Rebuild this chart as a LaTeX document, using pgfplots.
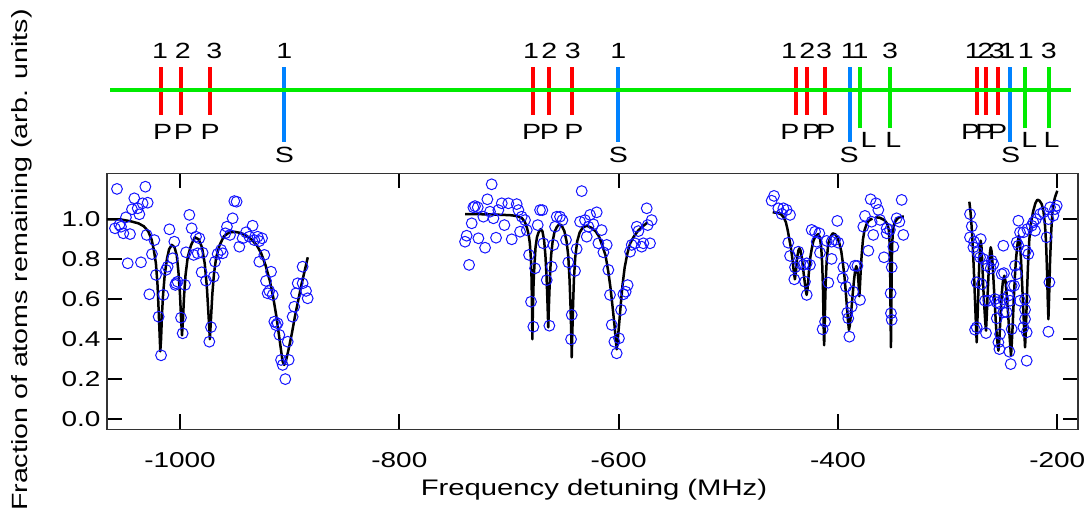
\documentclass[border=0pt]{standalone}
\usepackage{fontspec}
\setmainfont{Liberation Sans}[FakeStretch=1.3]
\usepackage{pgfplots}
\usepackage{pgfplotstable}
\pgfplotsset{compat=1.18}
\definecolor{lred}{RGB}{255,0,0}
\definecolor{lblue}{RGB}{0,130,255}
\definecolor{lgreen}{RGB}{0,235,0}
\definecolor{dots}{RGB}{20,20,255}

\pgfplotstableread{
x y
-1057.5 1.152
-1031.6 1.163
-1041.7 1.105
-1029.5 1.083
-1034.1 1.080
-1043.8 1.050
-1038.6 1.055
-1037.1 1.025
-1049.3 1.010
-1059.3 0.955
-1053.8 0.963
-1055.3 0.972
-1051.7 0.930
-1045.6 0.926
-1030.4 0.922
-1023.4 0.896
-1047.7 0.780
-1035.6 0.785
-1025.6 0.826
-1021.9 0.722
-1028.0 0.625
-1019.5 0.513
-1015.2 0.622
-1017.3 0.320
-1012.8 0.747
-1011.3 0.763
-1009.7 0.950
-1005.2 0.888
-1006.7 0.805
-1003.7 0.680
-1002.2 0.688
-1004.3 0.672
-999.1 0.508
-995.5 0.672
-997.6 0.430
-991.5 1.022
-989.4 0.955
-994.5 0.835
-987.6 0.822
-985.4 0.913
-982.4 0.905
-983.9 0.830
-979.4 0.833
-980.3 0.735
-976.3 0.693
-969.3 0.713
-971.8 0.461
-973.3 0.388
-968.1 0.788
-965.7 0.827
-962.6 0.847
-961.1 0.830
-957.2 0.963
-958.7 0.930
-954.4 0.922
-952.0 1.005
-948.4 1.088
-950.5 1.091
-945.9 0.863
-942.9 0.905
-939.8 0.935
-933.8 0.968
-936.8 0.913
-932.2 0.896
-929.2 0.913
-927.7 0.891
-925.2 0.905
-923.1 0.822
-927.7 0.788
-917.0 0.738
-921.6 0.692
-918.6 0.642
-920.1 0.630
-915.5 0.622
-914.0 0.488
-912.5 0.471
-911.0 0.480
-909.4 0.422
-907.9 0.297
-906.4 0.272
-900.9 0.297
-901.8 0.388
-904.0 0.201
-897.3 0.513
-895.8 0.563
-894.2 0.630
-892.7 0.680
-888.2 0.680
-885.1 0.642
-883.6 0.605
-888.2 0.763
-715.8 1.175
-633.7 1.141
-719.7 1.100
-731.0 1.066
-732.5 1.060
-728.5 1.060
-706.6 1.080
-700.6 1.080
-693.0 1.076
-709.7 1.046
-717.3 1.038
-723.4 1.013
-714.2 1.005
-734.0 0.980
-704.2 0.971
-691.4 1.046
-688.4 1.013
-685.4 0.996
-689.9 0.938
-697.5 0.900
-711.8 0.908
-727.9 0.905
-738.6 0.918
-740.1 0.888
-721.8 0.858
-736.4 0.772
-671.7 1.046
-669.6 1.046
-673.8 0.971
-683.8 0.946
-681.7 0.822
-676.2 0.755
-679.9 0.588
-677.8 0.463
-668.7 0.880
-665.6 0.696
-663.2 0.468
-661.1 0.763
-659.5 0.872
-656.5 1.013
-653.5 1.013
-651.3 0.996
-658.0 0.963
-648.0 0.897
-645.9 0.785
-639.8 0.742
-642.8 0.522
-643.4 0.400
-638.3 0.852
-635.2 0.988
-630.7 0.996
-626.1 1.022
-620.0 1.035
-627.6 0.963
-623.1 0.975
-615.5 0.946
-629.1 0.913
-618.5 0.880
-613.9 0.835
-610.9 0.872
-609.4 0.747
-607.9 0.622
-606.3 0.472
-603.9 0.388
-601.8 0.330
-599.7 0.405
-597.8 0.547
-595.7 0.625
-593.6 0.638
-591.8 0.671
-589.6 0.838
-588.1 0.872
-585.1 0.880
-583.5 0.963
-582.0 0.941
-579.0 0.863
-577.5 0.880
-574.4 1.055
-569.9 0.996
-571.4 0.880
-573.5 0.971
-458.3 1.117
-460.5 1.093
-454.4 1.055
-449.8 1.055
-446.8 1.047
-451.3 1.027
-443.7 1.022
-445.3 0.883
-443.7 0.817
-436.1 0.838
-439.2 0.760
-434.6 0.780
-431.6 0.772
-428.5 0.780
-425.5 0.772
-439.8 0.700
-430.1 0.688
-428.5 0.622
-424.0 0.947
-420.9 0.938
-417.0 0.930
-419.4 0.888
-416.4 0.833
-410.3 0.892
-405.8 0.888
-402.7 0.897
-399.7 0.883
-400.6 0.992
-405.8 0.802
-408.8 0.683
-411.8 0.488
-414.0 0.450
-395.1 0.760
-395.7 0.705
-392.7 0.663
-391.5 0.533
-390.6 0.505
-387.5 0.563
-389.6 0.413
-384.5 0.768
-382.3 0.767
-386.0 0.638
-379.9 0.597
-376.9 0.963
-375.4 1.017
-370.2 1.100
-372.3 0.843
-367.8 0.922
-365.3 1.080
-363.2 1.047
-369.3 0.988
-361.7 0.997
-358.0 0.810
-355.6 0.955
-355.6 0.930
-352.6 0.947
-349.5 0.863
-351.0 0.760
-352.0 0.630
-351.7 0.530
-351.0 0.497
-346.5 1.005
-344.0 0.988
-341.9 1.097
-340.4 0.922
-279.6 1.026
-278.0 0.965
-279.6 0.910
-275.9 0.888
-276.5 0.860
-269.8 0.901
-272.9 0.835
-270.4 0.810
-267.4 0.801
-264.4 0.768
-259.8 0.793
-258.3 0.776
-260.7 0.755
-273.5 0.685
-268.9 0.676
-265.9 0.593
-262.8 0.593
-256.8 0.601
-255.2 0.585
-252.2 0.576
-249.2 0.601
-250.7 0.726
-248.6 0.731
-249.2 0.868
-238.5 0.768
-237.0 0.726
-241.6 0.668
-239.4 0.668
-244.6 0.618
-243.1 0.593
-246.1 0.535
-249.2 0.535
-255.2 0.505
-273.5 0.460
-275.0 0.448
-265.0 0.431
-252.2 0.426
-253.7 0.385
-252.8 0.351
-243.7 0.338
-242.5 0.276
-227.9 0.293
-241.6 0.451
-234.0 0.593
-229.4 0.601
-229.4 0.548
-229.4 0.501
-230.9 0.460
-227.9 0.435
-235.5 0.993
-234.0 0.935
-230.9 0.935
-227.3 0.951
-223.3 0.968
-221.8 0.985
-219.4 1.001
-215.7 1.026
-212.7 1.035
-206.6 1.060
-202.1 1.051
-200.5 1.068
-203.6 1.018
-208.1 1.001
-220.3 0.943
-237.0 0.885
-235.5 0.868
-228.5 0.843
-226.4 0.826
-209.7 0.910
-207.2 0.685
-208.1 0.438
}\scatterdata

\pgfplotstableread{
x y
-1067 1.00
-1055 1.00
-1045 0.99
-1038 0.98
-1033 0.965
-1029 0.94
-1026 0.90
-1024 0.85
-1022 0.78
-1020.5 0.67
-1019.3 0.52
-1018.3 0.38
-1018 0.34
-1017.3 0.40
-1016.5 0.52
-1015.5 0.62
-1014 0.72
-1012 0.80
-1010 0.85
-1007.5 0.872
-1005 0.86
-1003 0.82
-1001.5 0.74
-1000 0.62
-999 0.50
-998.2 0.42
-997.3 0.50
-996.3 0.62
-995 0.72
-993 0.81
-990 0.87
-986.5 0.91
-983 0.90
-980 0.86
-977.5 0.78
-975.5 0.66
-974 0.52
-972.8 0.40
-971.8 0.50
-970.5 0.63
-969 0.73
-967 0.81
-964 0.87
-960 0.915
-955 0.935
-950 0.937
-945 0.932
-940 0.92
-935 0.90
-930 0.87
-926 0.83
-922 0.77
-918 0.69
-915 0.61
-912 0.51
-909 0.39
-906.5 0.29
-905 0.272
-903.5 0.29
-901 0.35
-898 0.43
-895 0.52
-892 0.60
-889 0.68
-886 0.75
-883.5 0.81
}\fitA

\pgfplotstableread{
x y
-740 1.026
-720 1.025
-705 1.022
-697.5 1.02
-692 1.015
-688 1.005
-685.4 0.985
-683.5 0.955
-682 0.92
-681 0.88
-680 0.80
-679.4 0.70
-679 0.55
-678.7 0.40
-678.2 0.55
-677.6 0.68
-676.9 0.76
-675.8 0.86
-674.5 0.91
-673 0.935
-671.1 0.951
-669.5 0.94
-668 0.895
-666.8 0.82
-665.8 0.72
-665 0.60
-664.2 0.46
-663.4 0.60
-662.6 0.72
-661.6 0.82
-660.2 0.89
-658.6 0.935
-656.5 0.96
-654.4 0.975
-652 0.97
-649.5 0.94
-647.5 0.89
-646 0.82
-644.8 0.70
-643.8 0.55
-643.2 0.42
-642.8 0.31
-642.3 0.42
-641.7 0.55
-640.8 0.70
-639.6 0.81
-637.8 0.89
-635.5 0.935
-632.5 0.96
-629 0.968
-625 0.958
-621 0.94
-618 0.915
-615 0.87
-612 0.82
-609.5 0.74
-607.5 0.66
-605.5 0.56
-603.8 0.47
-602.5 0.39
-601.8 0.35
-600.8 0.40
-599.5 0.48
-598 0.58
-596.5 0.67
-594.5 0.76
-592 0.83
-589.5 0.88
-586 0.915
-582 0.945
-578 0.965
-573.5 0.985
}\fitB

\pgfplotstableread{
x y
-459.5 1.035
-455 1.032
-452 1.025
-449.5 1.01
-447.5 0.985
-446 0.95
-444.5 0.905
-443 0.86
-441.5 0.80
-440.3 0.74
-439.3 0.70
-438.3 0.74
-437.2 0.81
-436 0.845
-435.2 0.855
-434.2 0.845
-433 0.81
-431.5 0.74
-430.2 0.68
-429.2 0.64
-428.6 0.622
-427.8 0.65
-426.6 0.73
-425.2 0.81
-424 0.85
-422.5 0.89
-420.8 0.913
-418 0.926
-416.5 0.91
-415.3 0.86
-414.4 0.78
-413.7 0.66
-413.2 0.52
-412.8 0.40
-412.6 0.37
-412.2 0.45
-411.7 0.58
-411.1 0.70
-410.2 0.80
-408.8 0.88
-407 0.91
-404.8 0.93
-402.5 0.925
-400.5 0.91
-398.5 0.875
-397 0.84
-395.5 0.78
-394 0.71
-392.8 0.63
-391.8 0.56
-390.8 0.49
-390 0.447
-389.2 0.47
-388.3 0.52
-387.5 0.565
-386.5 0.63
-385.3 0.70
-384.3 0.745
-383.3 0.766
-382.4 0.75
-381.6 0.71
-381 0.66
-380.5 0.615
-380 0.66
-379.3 0.74
-378.4 0.82
-377.2 0.90
-375.8 0.945
-374 0.975
-372 0.992
-370 1.0
-368.5 1.003
}\fitC

\pgfplotstableread{
x y
-366 1.01
-362 1.008
-358 0.997
-356 0.985
-354.5 0.97
-353.5 0.94
-352.8 0.87
-352.3 0.70
-352 0.50
-351.7 0.36
-351.4 0.50
-351.1 0.70
-350.6 0.87
-350 0.93
-348.9 0.975
-347 0.995
-344.9 1.008
-342 1.013
-339.8 1.013
}\fitD

\pgfplotstableread{
x y
-280.2 1.088
-279.2 1.04
-278.2 0.97
-277.2 0.88
-276.2 0.76
-275.2 0.62
-274.3 0.49
-273.5 0.385
-272.8 0.50
-272 0.63
-271.2 0.77
-270.4 0.86
-269.8 0.893
-269.1 0.86
-268.3 0.77
-267.4 0.65
-266.4 0.55
-265.6 0.48
-265 0.443
-264.3 0.52
-263.4 0.64
-262.4 0.76
-261.3 0.84
-260.7 0.86
-259.9 0.84
-258.9 0.77
-257.8 0.66
-256.8 0.56
-255.8 0.46
-254.7 0.39
-253.7 0.343
-252.7 0.41
-251.6 0.535
-250.6 0.63
-249.6 0.69
-248.3 0.718
-247.2 0.69
-246.1 0.62
-245 0.54
-243.8 0.44
-242.8 0.36
-242.2 0.318
-241.5 0.38
-240.6 0.48
-239.6 0.61
-238.5 0.73
-237.5 0.81
-236.4 0.87
-235.2 0.918
-234 0.88
-233 0.79
-232 0.67
-231 0.55
-230.2 0.45
-229.4 0.36
-228.6 0.45
-227.8 0.60
-226.8 0.76
-225.5 0.90
-224 0.98
-222 1.04
-220 1.08
-218.2 1.098
-216.2 1.093
-214.2 1.076
-212.6 1.04
-211.2 0.97
-210.2 0.88
-209.4 0.75
-208.7 0.60
-208.1 0.50
-207.4 0.62
-206.6 0.79
-205.6 0.93
-204.5 1.035
-203.3 1.08
-202.1 1.11
-200 1.143
}\fitE

\begin{document}
\begin{tikzpicture}
\path[use as bounding box] (0,0) rectangle (1089pt,520pt);

% ---------- top panel: line positions ----------
\begin{axis}[at={(107pt,350pt)}, anchor=south west, scale only axis,
  width=971pt, height=130pt,
  xmin=-1066.6, xmax=-181.1, ymin=0, ymax=130,
  hide axis, clip=false, unbounded coords=jump]
\addplot[lred, line width=4.2pt, line cap=butt] coordinates {
 (-1017.3,55) (-1017.3,103.3) (-1017.3,nan)
 (-998.8,55) (-998.8,103.3) (-998.8,nan)
 (-972.6,55) (-972.6,103.3) (-972.6,nan)
 (-677.8,55) (-677.8,103.3) (-677.8,nan)
 (-663.8,55) (-663.8,103.3) (-663.8,nan)
 (-642.5,55) (-642.5,103.3) (-642.5,nan)
 (-438.5,55) (-438.5,103.3) (-438.5,nan)
 (-428.2,55) (-428.2,103.3) (-428.2,nan)
 (-412.1,55) (-412.1,103.3) (-412.1,nan)
 (-273.5,55) (-273.5,103.3) (-273.5,nan)
 (-265.0,55) (-265.0,103.3) (-265.0,nan)
 (-253.8,55) (-253.8,103.3)};
\addplot[lblue, line width=4.2pt, line cap=butt] coordinates {
 (-904.9,28.3) (-904.9,103.3) (-904.9,nan)
 (-600.3,28.3) (-600.3,103.3) (-600.3,nan)
 (-389.0,28.3) (-389.0,103.3) (-389.0,nan)
 (-243.1,28.3) (-243.1,103.3)};
\addplot[lgreen, line width=4.2pt, line cap=butt] coordinates {
 (-379.9,41.7) (-379.9,103.3) (-379.9,nan)
 (-352.5,41.7) (-352.5,103.3) (-352.5,nan)
 (-229.2,41.7) (-229.2,103.3) (-229.2,nan)
 (-207.8,41.7) (-207.8,103.3)};
\addplot[lgreen, line width=4pt] coordinates {(-1063.8,79.7) (-187.5,79.7)};

\begin{scope}[every node/.style={anchor=base, inner sep=0pt, font=\fontsize{22}{26}\selectfont}]
% numbers above
\node at (axis cs:-1018.2,111) {1};
\node at (axis cs:-997.5,111) {2};
\node at (axis cs:-968.7,111) {3};
\node at (axis cs:-904.9,111) {1};
\node at (axis cs:-679.9,111) {1};
\node at (axis cs:-663.2,111) {2};
\node at (axis cs:-641.9,111) {3};
\node at (axis cs:-600.3,111) {1};
\node at (axis cs:-444.6,111) {1};
\node at (axis cs:-427.9,111) {2};
\node at (axis cs:-412.7,111) {3};
\node at (axis cs:-390.2,111) {1};
\node at (axis cs:-379.3,111) {1};
\node at (axis cs:-352.5,111) {3};
\node at (axis cs:-277.1,111) {1};
\node at (axis cs:-265.6,111) {2};
\node at (axis cs:-255.2,111) {3};
\node at (axis cs:-245.6,111) {1};
\node at (axis cs:-228.8,111) {1};
\node at (axis cs:-207.8,111) {3};
% letters below
\node at (axis cs:-1015.8,30) {P};
\node at (axis cs:-997.0,30) {P};
\node at (axis cs:-972.6,30) {P};
\node at (axis cs:-904.9,7.5) {S};
\node at (axis cs:-679.3,30) {P};
\node at (axis cs:-663.2,30) {P};
\node at (axis cs:-640.7,30) {P};
\node at (axis cs:-600.3,7.5) {S};
\node at (axis cs:-443.8,30) {P};
\node at (axis cs:-424.0,30) {P};
\node at (axis cs:-411.0,30) {P};
\node at (axis cs:-389.7,7.5) {S};
\node at (axis cs:-372.0,22) {L};
\node at (axis cs:-349.5,22) {L};
\node at (axis cs:-278.9,30) {P};
\node at (axis cs:-265.9,30) {P};
\node at (axis cs:-254.3,30) {P};
\node at (axis cs:-242.5,7.5) {S};
\node at (axis cs:-225.5,22) {L};
\node at (axis cs:-205.1,22) {L};
\end{scope}
\end{axis}

% ---------- main panel ----------
\begin{axis}[at={(107pt,90.7pt)}, anchor=south west, scale only axis,
  width=971pt, height=256pt,
  xmin=-1066.6, xmax=-181.1, ymin=-0.05, ymax=1.23,
  xtick={-1000,-800,-600,-400,-200},
  ytick={0,0.2,0.4,0.6,0.8,1.0},
  tick align=inside, major tick length=15pt,
  tick style={line width=1.8pt, black},
  axis line style={line width=1.5pt, black!80},
  /pgf/number format/assume math mode=true,
  /pgf/number format/1000 sep={},
  yticklabel style={/pgf/number format/fixed, /pgf/number format/fixed zerofill,
     /pgf/number format/precision=1, font=\fontsize{21.5}{24}\selectfont, xshift=-3pt},
  xticklabel style={anchor=base, yshift=-38.5pt, font=\fontsize{21.5}{24}\selectfont},
  xlabel={Frequency detuning (MHz)},
  xlabel style={at={(rel axis cs:0.5015,-0.236)}, anchor=center, font=\fontsize{22.5}{26}\selectfont},
  ylabel={Fraction of atoms remaining (arb. units)},
  ylabel style={at={(rel axis cs:-0.0875,0.661)}, anchor=center, font=\fontsize{22}{26}\selectfont},
]
\addplot[only marks, mark=o, mark size=5.4pt, dots, mark options={line width=1pt}] table {\scatterdata};
\addplot[black, line width=2.5pt, line join=round] table {\fitA};
\addplot[black, line width=2.5pt, line join=round] table {\fitB};
\addplot[black, line width=2.5pt, line join=round] table {\fitC};
\addplot[black, line width=2.5pt, line join=round] table {\fitD};
\addplot[black, line width=2.5pt, line join=round] table {\fitE};
\end{axis}
\end{tikzpicture}
\end{document}
